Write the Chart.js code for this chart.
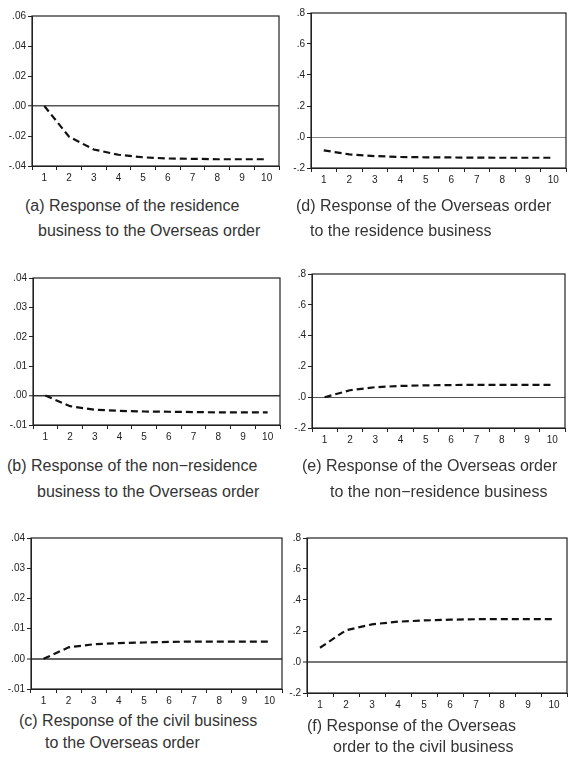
<!DOCTYPE html>
<html>
<head>
<meta charset="utf-8">
<script src="https://cdn.jsdelivr.net/npm/chart.js@4.4.1/dist/chart.umd.min.js"></script>
<style>
  html, body { margin:0; padding:0; background:#fff; }
  #page { position:relative; width:579px; height:763px; overflow:hidden; }
  canvas { position:absolute; }
  .cap { position:absolute; font:16px "Liberation Sans", Arial, sans-serif; color:#333; line-height:18px; white-space:nowrap; }
</style>
</head>
<body>
<div id="page"></div>
<script>
// periods after the shock
const periods = ['1','2','3','4','5','6','7','8','9','10'];

// impulse responses
const respA = [0, -0.0205, -0.029, -0.0325, -0.0342, -0.035, -0.0352, -0.0355, -0.0355, -0.0355];
const respB = [0, -0.0036, -0.0048, -0.0052, -0.0054, -0.0055, -0.0056, -0.0057, -0.0057, -0.0057];
const respC = [0, 0.0038, 0.0048, 0.0052, 0.0054, 0.0056, 0.0057, 0.0057, 0.0057, 0.0057];
const respD = [-0.086, -0.112, -0.123, -0.129, -0.131, -0.132, -0.133, -0.134, -0.134, -0.134];
const respE = [0, 0.045, 0.065, 0.073, 0.077, 0.079, 0.08, 0.08, 0.08, 0.08];
const respF = [0.092, 0.205, 0.243, 0.26, 0.268, 0.273, 0.276, 0.277, 0.277, 0.277];

// y axis ranges: [min, max, step, decimals]
const yAxisA = [-0.04, 0.06, 0.02, 2];
const yAxisSmall = [-0.01, 0.04, 0.01, 2];
const yAxisBig = [-0.2, 0.8, 0.2, 1];

const captions = {
  a: ['(a) Response of the residence', 'business to the Overseas order'],
  b: ['(b) Response of the non\u2212residence', 'business to the Overseas order'],
  c: ['(c) Response of the civil business', 'to the Overseas order'],
  d: ['(d) Response of the Overseas order', 'to the residence business'],
  e: ['(e) Response of the Overseas order', 'to the non\u2212residence business'],
  f: ['(f) Response of the Overseas', 'order to the civil business']
};

// layout: plot box (left, right, top, bottom), zero line look, caption spots
const panels = [
  { key:'a', data:respA, y:yAxisA,     L:32,  R:279, T:16,  B:166, zc:'#555', zw:1.5, c1:[25,206], c2:[38,231] },
  { key:'d', data:respD, y:yAxisBig,   L:311, R:566, T:13,  B:168, zc:'#888', zw:1,   c1:[296,206], c2:[310,231] },
  { key:'b', data:respB, y:yAxisSmall, L:33,  R:280, T:278, B:425, zc:'#333', zw:1.5, c1:[7,466],  c2:[37,492] },
  { key:'e', data:respE, y:yAxisBig,   L:312, R:565, T:274, B:428, zc:'#555', zw:1,   c1:[302,466], c2:[330,492] },
  { key:'c', data:respC, y:yAxisSmall, L:31,  R:282, T:538, B:689, zc:'#666', zw:2,   c1:[19,721], c2:[45,743] },
  { key:'f', data:respF, y:yAxisBig,   L:307, R:567, T:538, B:693, zc:'#777', zw:2,   c1:[307,726], c2:[333,747] }
];

Chart.defaults.font.family = '"Liberation Sans", Arial, sans-serif';
Chart.defaults.font.size = 10;
Chart.defaults.color = '#222';

const frame = {
  id:'frame',
  afterDraw(chart){
    const a = chart.chartArea, ctx = chart.ctx;
    ctx.save();
    ctx.strokeStyle = '#222'; ctx.lineWidth = 1.2;
    ctx.strokeRect(a.left, a.top, a.right - a.left, a.bottom - a.top);
    ctx.restore();
  }
};

const page = document.getElementById('page');
const fmt = (v, d) => {
  let s = Number(v).toFixed(d);
  if (Math.abs(v) < 1e-9) s = (0).toFixed(d);
  return s.replace(/^(-?)0\./, '$1.');
};

panels.forEach(p => {
  const padTop = 10, padRight = 10, yW = 30, xH = 22;
  const cv = document.createElement('canvas');
  const w = p.R - p.L + yW + padRight, h = p.B - p.T + padTop + xH;
  cv.width = w; cv.height = h;
  cv.style.left = (p.L - yW) + 'px'; cv.style.top = (p.T - padTop) + 'px';
  cv.style.width = w + 'px'; cv.style.height = h + 'px';
  page.appendChild(cv);

  const [ymin, ymax, ystep, dec] = p.y;
  new Chart(cv, {
    type:'line',
    data:{ labels: periods, datasets:[{ data:p.data, borderColor:'#111', borderWidth:2.2, borderDash:[7,4], pointRadius:0, tension:0, fill:false }] },
    options:{
      responsive:false, animation:false, devicePixelRatio:1,
      layout:{ padding:{ top:padTop, right:padRight, left:0, bottom:0 } },
      plugins:{ legend:{ display:false }, tooltip:{ enabled:false } },
      scales:{
        x:{
          type:'category', offset:true,
          grid:{ offset:true, drawOnChartArea:false, color:'#222', tickLength:4, tickWidth:1 },
          border:{ display:true, color:'#222' },
          ticks:{ autoSkip:false, maxRotation:0, padding:2 },
          afterFit(s){ s.height = xH; }
        },
        y:{
          min:ymin, max:ymax,
          grid:{
            color: c => Math.abs(c.tick.value) < 1e-9 ? p.zc : 'rgba(0,0,0,0)',
            lineWidth: c => Math.abs(c.tick.value) < 1e-9 ? p.zw : 1,
            tickColor:'#222', tickLength:4, tickWidth:1
          },
          border:{ display:true, color:'#222' },
          ticks:{ stepSize:ystep, padding:2, callback: v => fmt(v, dec) },
          afterFit(s){ s.width = yW; }
        }
      }
    },
    plugins:[frame]
  });

  const cap = captions[p.key];
  [p.c1, p.c2].forEach((pos, i) => {
    const d = document.createElement('div');
    d.className = 'cap';
    d.textContent = cap[i];
    d.style.left = pos[0] + 'px';
    d.style.top = (pos[1] - 9) + 'px';
    page.appendChild(d);
  });
});
</script>
</body>
</html>
